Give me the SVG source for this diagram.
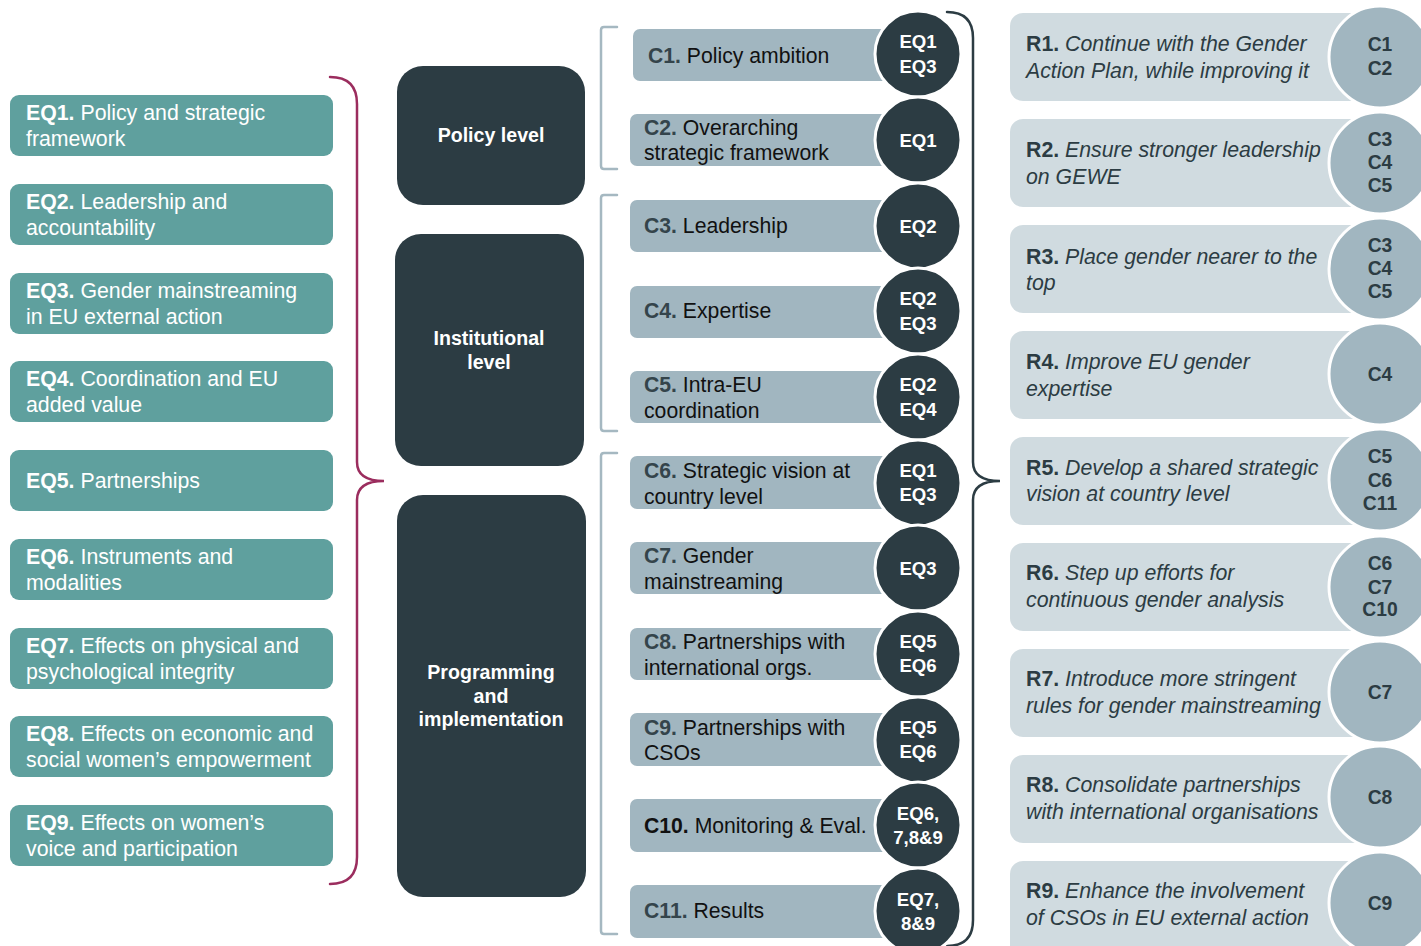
<svg xmlns="http://www.w3.org/2000/svg" width="1421" height="946" viewBox="0 0 1421 946">
<style>
text{font-family:"Liberation Sans",Arial,sans-serif}
.eq rect{fill:#5fa09e}
.eq text{fill:#fff;font-size:21.3px}
.lvl rect{fill:#2c3c43}
.lvl text{fill:#fff;font-size:19.6px;font-weight:bold;text-anchor:middle}
.cb rect{fill:#a1b6c0}
.cb text{fill:#111;font-size:21.2px}
.cb circle{fill:#2c3c43;stroke:#fff;stroke-width:3}
.cb text.ci{fill:#fff;font-size:18.6px;font-weight:bold;text-anchor:middle}
.pre{font-weight:bold;fill:#34444b}
.rb rect{fill:#d0dbe0}
.rb text{fill:#2c3c43;font-size:21.3px;font-style:italic}
.rb .rp{font-weight:bold;font-style:normal}
.rb circle{fill:#a1b6c0;stroke:#fff;stroke-width:3}
.rb text.ri{font-size:19.3px;font-weight:bold;font-style:normal;text-anchor:middle}
.b{font-weight:bold}
</style>
<g id="connectors" fill="none" stroke-linecap="round">
<path d="M330,77 Q357,77 357,104 L357,462 Q357,481 384,481 Q357,481 357,500 L357,857 Q357,884 330,884" stroke="#9b2d5e" stroke-width="2.5"/>
<path d="M947,12 Q973,12 973,38 L973,462 Q973,481 1000,481 Q973,481 973,500 L973,920 Q973,946 947,946" stroke="#2c3c43" stroke-width="2.5"/>
<path d="M617,27 L604,27 Q601,27 601,30 L601,166 Q601,169 604,169 L617,169" stroke="#a5b8c1" stroke-width="2.5"/>
<path d="M617,195 L604,195 Q601,195 601,198 L601,428 Q601,431 604,431 L617,431" stroke="#a5b8c1" stroke-width="2.5"/>
<path d="M617,453 L604,453 Q601,453 601,456 L601,931 Q601,934 604,934 L617,934" stroke="#a5b8c1" stroke-width="2.5"/>
</g>
<g id="eq1" class="eq"><rect x="10" y="95" width="323" height="61" rx="9"/><text x="26" y="120"><tspan class="b">EQ1.</tspan> Policy and strategic</text><text x="26" y="146">framework</text></g>
<g id="eq2" class="eq"><rect x="10" y="184" width="323" height="61" rx="9"/><text x="26" y="209"><tspan class="b">EQ2.</tspan> Leadership and</text><text x="26" y="235">accountability</text></g>
<g id="eq3" class="eq"><rect x="10" y="273" width="323" height="61" rx="9"/><text x="26" y="298"><tspan class="b">EQ3.</tspan> Gender mainstreaming</text><text x="26" y="324">in EU external action</text></g>
<g id="eq4" class="eq"><rect x="10" y="361" width="323" height="61" rx="9"/><text x="26" y="386"><tspan class="b">EQ4.</tspan> Coordination and EU</text><text x="26" y="412">added value</text></g>
<g id="eq5" class="eq"><rect x="10" y="450" width="323" height="61" rx="9"/><text x="26" y="488"><tspan class="b">EQ5.</tspan> Partnerships</text></g>
<g id="eq6" class="eq"><rect x="10" y="539" width="323" height="61" rx="9"/><text x="26" y="564"><tspan class="b">EQ6.</tspan> Instruments and</text><text x="26" y="590">modalities</text></g>
<g id="eq7" class="eq"><rect x="10" y="628" width="323" height="61" rx="9"/><text x="26" y="653"><tspan class="b">EQ7.</tspan> Effects on physical and</text><text x="26" y="679">psychological integrity</text></g>
<g id="eq8" class="eq"><rect x="10" y="716" width="323" height="61" rx="9"/><text x="26" y="741"><tspan class="b">EQ8.</tspan> Effects on economic and</text><text x="26" y="767">social women’s empowerment</text></g>
<g id="eq9" class="eq"><rect x="10" y="805" width="323" height="61" rx="9"/><text x="26" y="830"><tspan class="b">EQ9.</tspan> Effects on women’s</text><text x="26" y="856">voice and participation</text></g>

<g id="lvl-policy" class="lvl"><rect x="397" y="66" width="188" height="139" rx="26"/><text x="491" y="142">Policy level</text></g>
<g id="lvl-inst" class="lvl"><rect x="395" y="234" width="189" height="232" rx="26"/><text x="489" y="345">Institutional</text><text x="489" y="369">level</text></g>
<g id="lvl-prog" class="lvl"><rect x="397" y="495" width="189" height="402" rx="26"/><text x="491" y="679">Programming</text><text x="491" y="703">and</text><text x="491" y="726">implementation</text></g>

<g id="c1" class="cb"><rect x="633" y="29" width="270" height="52" rx="7"/><text x="648" y="63"><tspan class="pre">C1.</tspan> Policy ambition</text><circle cx="918" cy="54" r="43"/><text class="ci" x="918" y="48">EQ1</text><text class="ci" x="918" y="73">EQ3</text></g>
<g id="c2" class="cb"><rect x="630" y="114" width="273" height="52" rx="7"/><text x="644" y="135"><tspan class="pre">C2.</tspan> Overarching</text><text x="644" y="160">strategic framework</text><circle cx="918" cy="140" r="43"/><text class="ci" x="918" y="147">EQ1</text></g>
<g id="c3" class="cb"><rect x="630" y="200" width="273" height="52" rx="7"/><text x="644" y="233"><tspan class="pre">C3.</tspan> Leadership</text><circle cx="918" cy="226" r="43"/><text class="ci" x="918" y="233">EQ2</text></g>
<g id="c4" class="cb"><rect x="630" y="286" width="273" height="52" rx="7"/><text x="644" y="318"><tspan class="pre">C4.</tspan> Expertise</text><circle cx="918" cy="311" r="43"/><text class="ci" x="918" y="305">EQ2</text><text class="ci" x="918" y="330">EQ3</text></g>
<g id="c5" class="cb"><rect x="630" y="371" width="273" height="52" rx="7"/><text x="644" y="392"><tspan class="pre">C5.</tspan> Intra-EU</text><text x="644" y="418">coordination</text><circle cx="918" cy="397" r="43"/><text class="ci" x="918" y="391">EQ2</text><text class="ci" x="918" y="416">EQ4</text></g>
<g id="c6" class="cb"><rect x="630" y="456" width="273" height="53" rx="7"/><text x="644" y="478"><tspan class="pre">C6.</tspan> Strategic vision at</text><text x="644" y="504">country level</text><circle cx="918" cy="483" r="43"/><text class="ci" x="918" y="477">EQ1</text><text class="ci" x="918" y="501">EQ3</text></g>
<g id="c7" class="cb"><rect x="630" y="542" width="273" height="52" rx="7"/><text x="644" y="563"><tspan class="pre">C7.</tspan> Gender</text><text x="644" y="589">mainstreaming</text><circle cx="918" cy="568" r="43"/><text class="ci" x="918" y="575">EQ3</text></g>
<g id="c8" class="cb"><rect x="630" y="628" width="273" height="52" rx="7"/><text x="644" y="649"><tspan class="pre">C8.</tspan> Partnerships with</text><text x="644" y="675">international orgs.</text><circle cx="918" cy="654" r="43"/><text class="ci" x="918" y="648">EQ5</text><text class="ci" x="918" y="672">EQ6</text></g>
<g id="c9" class="cb"><rect x="630" y="713" width="273" height="53" rx="7"/><text x="644" y="735"><tspan class="pre">C9.</tspan> Partnerships with</text><text x="644" y="760">CSOs</text><circle cx="918" cy="740" r="43"/><text class="ci" x="918" y="734">EQ5</text><text class="ci" x="918" y="758">EQ6</text></g>
<g id="c10" class="cb"><rect x="630" y="799" width="273" height="53" rx="7"/><text x="644" y="833"><tspan class="b">C10.</tspan> Monitoring &amp; Eval.</text><circle cx="918" cy="825" r="43"/><text class="ci" x="918" y="820">EQ6,</text><text class="ci" x="918" y="844">7,8&amp;9</text></g>
<g id="c11" class="cb"><rect x="630" y="885" width="273" height="53" rx="7"/><text x="644" y="918"><tspan class="pre">C11.</tspan> Results</text><circle cx="918" cy="911" r="43"/><text class="ci" x="918" y="906">EQ7,</text><text class="ci" x="918" y="930">8&amp;9</text></g>

<g id="r1" class="rb"><rect x="1010" y="13" width="390" height="88" rx="13"/><text x="1026" y="51"><tspan class="rp">R1.</tspan> Continue with the Gender</text><text x="1026" y="78">Action Plan, while improving it</text><circle cx="1380" cy="57" r="51"/><text class="ri" x="1380" y="51">C1</text><text class="ri" x="1380" y="75">C2</text></g>
<g id="r2" class="rb"><rect x="1010" y="119" width="390" height="88" rx="13"/><text x="1026" y="157"><tspan class="rp">R2.</tspan> Ensure stronger leadership</text><text x="1026" y="184">on GEWE</text><circle cx="1380" cy="163" r="51"/><text class="ri" x="1380" y="146">C3</text><text class="ri" x="1380" y="169">C4</text><text class="ri" x="1380" y="192">C5</text></g>
<g id="r3" class="rb"><rect x="1010" y="225" width="390" height="88" rx="13"/><text x="1026" y="264"><tspan class="rp">R3.</tspan> Place gender nearer to the</text><text x="1026" y="290">top</text><circle cx="1380" cy="269" r="51"/><text class="ri" x="1380" y="252">C3</text><text class="ri" x="1380" y="275">C4</text><text class="ri" x="1380" y="298">C5</text></g>
<g id="r4" class="rb"><rect x="1010" y="331" width="390" height="88" rx="13"/><text x="1026" y="369"><tspan class="rp">R4.</tspan> Improve EU gender</text><text x="1026" y="396">expertise</text><circle cx="1380" cy="374" r="51"/><text class="ri" x="1380" y="381">C4</text></g>
<g id="r5" class="rb"><rect x="1010" y="437" width="390" height="88" rx="13"/><text x="1026" y="475"><tspan class="rp">R5.</tspan> Develop a shared strategic</text><text x="1026" y="501">vision at country level</text><circle cx="1380" cy="480" r="51"/><text class="ri" x="1380" y="463">C5</text><text class="ri" x="1380" y="487">C6</text><text class="ri" x="1380" y="510">C11</text></g>
<g id="r6" class="rb"><rect x="1010" y="543" width="390" height="88" rx="13"/><text x="1026" y="580"><tspan class="rp">R6.</tspan> Step up efforts for</text><text x="1026" y="607">continuous gender analysis</text><circle cx="1380" cy="587" r="51"/><text class="ri" x="1380" y="570">C6</text><text class="ri" x="1380" y="594">C7</text><text class="ri" x="1380" y="616">C10</text></g>
<g id="r7" class="rb"><rect x="1010" y="649" width="390" height="88" rx="13"/><text x="1026" y="686"><tspan class="rp">R7.</tspan> Introduce more stringent</text><text x="1026" y="713">rules for gender mainstreaming</text><circle cx="1380" cy="692" r="51"/><text class="ri" x="1380" y="699">C7</text></g>
<g id="r8" class="rb"><rect x="1010" y="755" width="390" height="88" rx="13"/><text x="1026" y="792"><tspan class="rp">R8.</tspan> Consolidate partnerships</text><text x="1026" y="819">with international organisations</text><circle cx="1380" cy="797" r="51"/><text class="ri" x="1380" y="804">C8</text></g>
<g id="r9" class="rb"><rect x="1010" y="861" width="390" height="100" rx="13"/><text x="1026" y="898"><tspan class="rp">R9.</tspan> Enhance the involvement</text><text x="1026" y="925">of CSOs in EU external action</text><circle cx="1380" cy="903" r="51"/><text class="ri" x="1380" y="910">C9</text></g>
</svg>
